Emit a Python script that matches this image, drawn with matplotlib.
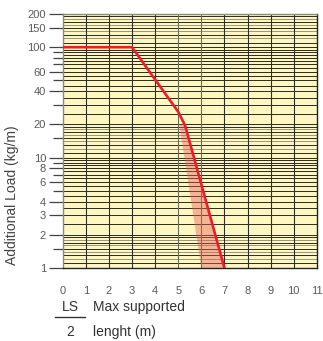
import numpy as np
import matplotlib
matplotlib.use("Agg")
import matplotlib.pyplot as plt

plt.rcParams['font.family'] = ['Liberation Sans', 'DejaVu Sans']

# data
line_x = [0, 3, 5.0, 5.3, 7]
line_y = [100, 100, 26, 19.5, 1]
band_x = [5.05, 5.3, 7, 6]
band_y = [20, 20, 1, 1]

x_ticks = list(range(0, 12))
y_major = [1, 2, 3, 4, 6, 8, 10, 20, 40, 60, 100, 150, 200]
y_minor = [1.5, 5, 7, 9, 15, 30, 50, 70, 80, 90]

# grid levels (log graph paper)
grid_h = np.concatenate([
    np.arange(1.1, 2.0, 0.1),
    np.arange(2.0, 10.0, 0.5),
    np.arange(10, 20, 1),
    np.arange(20, 100, 5),
    np.arange(100, 200, 10),
])

fig = plt.figure(figsize=(3.23, 3.41), dpi=100)
ax = fig.add_axes([0.194, 0.214, 0.787, 0.745])
ax.set_facecolor('#FFF7C2')
ax.set_yscale('log')
ax.set_xlim(0, 11)
ax.set_ylim(1, 200)

tickset = set(np.round(y_major + y_minor, 3))
for i, v in enumerate(grid_h):
    vv = round(float(v), 3)
    dark = vv in tickset or i % 2 == 0
    ax.axhline(vv, color='#2a2a22' if dark else '#9a9878',
               lw=0.7, zorder=1)
for xv in x_ticks[1:-1]:
    ax.axvline(xv, color='#2e2e26' if xv not in (5, 6) else '#6a6a55',
               lw=0.8, zorder=1)

ax.fill(band_x, band_y, color='#E85A55', alpha=0.42, lw=0, zorder=2)
ax.plot(line_x, line_y, color='#EE1C24', lw=1.9, zorder=3,
        solid_joinstyle='miter')

for s in ['left', 'top']:
    ax.spines[s].set_color('#8a8a80')
    ax.spines[s].set_linewidth(1.0)
for s in ['right', 'bottom']:
    ax.spines[s].set_color('#222222')
    ax.spines[s].set_linewidth(1.0)

ax.set_xticks(x_ticks)
ax.set_xticklabels([str(t) for t in x_ticks])
ax.tick_params(axis='x', length=0, pad=13, labelsize=8, labelcolor='#5a5a5a')

ax.yaxis.set_major_locator(matplotlib.ticker.FixedLocator(y_major))
ax.yaxis.set_minor_locator(matplotlib.ticker.FixedLocator(y_minor))
ax.yaxis.set_major_formatter(matplotlib.ticker.FixedFormatter([str(v) for v in y_major]))
ax.yaxis.set_minor_formatter(matplotlib.ticker.NullFormatter())
ax.tick_params(axis='y', which='major', length=10, width=0.9, color='#444444',
               pad=2, labelsize=8, labelcolor='#5a5a5a')
ax.tick_params(axis='y', which='minor', length=7, width=0.9, color='#444444')

fig.text(12/323, 1 - 195/341, 'Additional Load (kg/m)', rotation=90,
         ha='center', va='center', fontsize=10, color='#444444')

fig.text(70/323, 1 - 307/341, 'LS', ha='center', va='center', fontsize=10, color='#333333')
fig.text(70/323, 1 - 332/341, '2', ha='center', va='center', fontsize=10, color='#333333')
fig.add_artist(matplotlib.lines.Line2D([55/323, 85/323], [1 - 317/341, 1 - 317/341],
                                       color='#333333', lw=1.0))
fig.text(93/323, 1 - 307/341, 'Max supported', ha='left', va='center', fontsize=10, color='#333333')
fig.text(93/323, 1 - 332/341, 'lenght (m)', ha='left', va='center', fontsize=10, color='#333333')

fig.savefig('out.png', dpi=100)
